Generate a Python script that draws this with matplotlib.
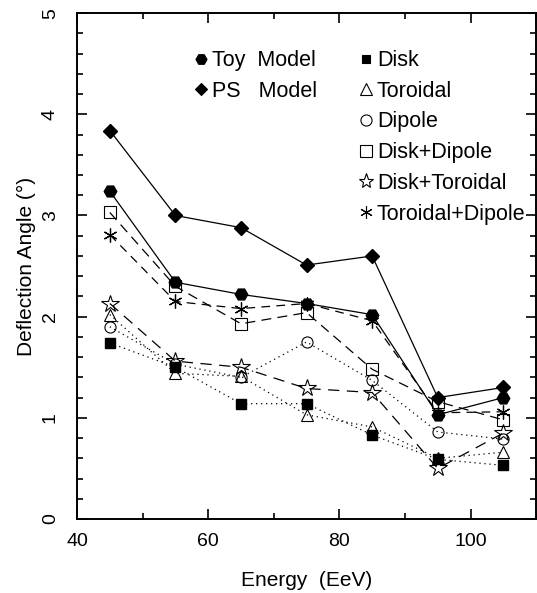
import matplotlib.pyplot as plt
from matplotlib.lines import Line2D
from matplotlib.ticker import MultipleLocator

plt.rcParams['font.family'] = ['Liberation Sans', 'DejaVu Sans']

energy = [45, 55, 65, 75, 85, 95, 105]

toy_model = [3.24, 2.34, 2.22, 2.13, 2.02, 1.03, 1.20]
ps_model = [3.84, 3.00, 2.88, 2.51, 2.60, 1.20, 1.30]
disk = [1.74, 1.50, 1.14, 1.14, 0.83, 0.59, 0.53]
toroidal = [2.02, 1.44, 1.41, 1.03, 0.91, 0.60, 0.66]
dipole = [1.90, 1.53, 1.40, 1.75, 1.37, 0.86, 0.79]
disk_dipole = [3.03, 2.30, 1.93, 2.04, 1.48, 1.16, 0.98]
disk_toroidal = [2.13, 1.56, 1.50, 1.29, 1.25, 0.50, 0.85]
toroidal_dipole = [2.81, 2.15, 2.08, 2.13, 1.96, 1.05, 1.06]

fig = plt.figure(figsize=(5.37, 5.93), dpi=100)
ax = fig.add_axes([0.1434, 0.1248, 0.855, 0.853])

lw = 0.9
dotted = (0, (1, 3))
dashed = (0, (8, 5))

ax.plot(energy, ps_model, color='black', lw=lw, marker='D', ms=7, mfc='black')
ax.plot(energy, toy_model, color='black', lw=lw, marker='H', ms=9, mfc='black')
ax.plot(energy, disk, color='black', lw=lw, ls=dotted, marker='s', ms=6.5, mfc='black')
ax.plot(energy, toroidal, color='black', lw=lw, ls=dotted, marker='^', ms=8, mfc='none', mew=0.8)
ax.plot(energy, dipole, color='black', lw=lw, ls=dotted, marker='o', ms=8, mfc='none', mew=0.8)
ax.plot(energy, disk_dipole, color='black', lw=lw, ls=dashed, marker='s', ms=8, mfc='none', mew=0.8)
ax.plot(energy, disk_toroidal, color='black', lw=lw, ls=(0, (9, 6)), marker='*', ms=13, mfc='none', mew=0.8)
ax.plot(energy, toroidal_dipole, color='black', lw=lw, ls=(0, (7, 5)), marker=(6, 2, 0), ms=10, mew=0.9)

ax.set_xlim(40, 110)
ax.set_ylim(0, 5)
ax.xaxis.set_major_locator(MultipleLocator(20))
ax.xaxis.set_minor_locator(MultipleLocator(10))
ax.yaxis.set_major_locator(MultipleLocator(1))
ax.yaxis.set_minor_locator(MultipleLocator(0.2))
ax.tick_params(which='both', direction='in', top=True, right=True, width=1.2)
ax.tick_params(which='major', length=7, labelsize=14)
ax.tick_params(axis='x', which='major', pad=10)
ax.tick_params(axis='y', which='major', pad=13)
ax.tick_params(which='minor', length=4)
for lab in ax.get_yticklabels():
    lab.set_rotation(90)
    lab.set_va('center')
for sp in ax.spines.values():
    sp.set_linewidth(1.4)

ax.set_xlabel('Energy  (EeV)', fontsize=15, labelpad=15)
ax.set_ylabel('Deflection Angle (°)', fontsize=15, labelpad=4)

def proxy(marker, ms, filled):
    return Line2D([], [], ls='none', color='black', marker=marker, ms=ms,
                  mfc='black' if filled else 'none', mew=0.8)

left = ax.legend([proxy('H', 8, True), proxy('D', 6, True)],
                 ['Toy  Model', 'PS   Model'],
                 loc='upper left', bbox_to_anchor=(0.252, 0.927), frameon=False,
                 fontsize=15.5, handlelength=0.8, handletextpad=0.1,
                 labelspacing=0.45, borderpad=0, borderaxespad=0)
ax.add_artist(left)
ax.legend([proxy('s', 6, True), proxy('^', 8, False), proxy('o', 8, False),
           proxy('s', 8, False), proxy('*', 11, False), proxy((6, 2, 0), 9, True)],
          ['Disk', 'Toroidal', 'Dipole', 'Disk+Dipole', 'Disk+Toroidal', 'Toroidal+Dipole'],
          loc='upper left', bbox_to_anchor=(0.611, 0.927), frameon=False,
          fontsize=15.5, handlelength=0.8, handletextpad=0.1,
          labelspacing=0.45, borderpad=0, borderaxespad=0)

fig.savefig('out.png', dpi=100)
